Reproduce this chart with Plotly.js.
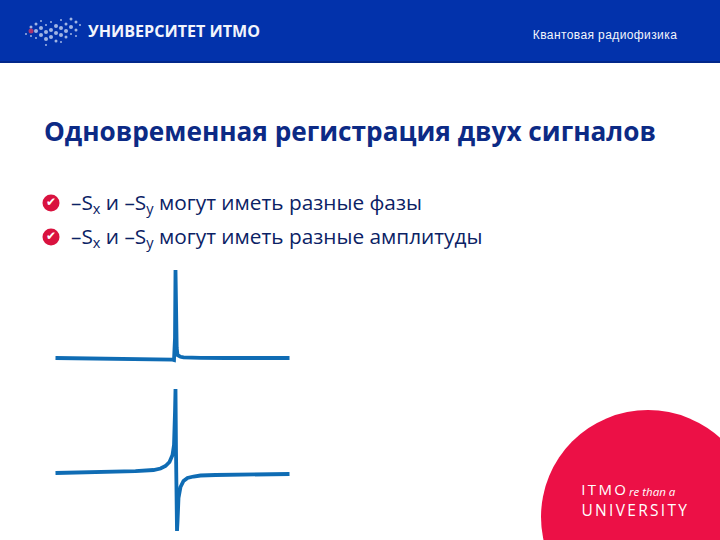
<!DOCTYPE html>
<html><head><meta charset="utf-8">
<script src="https://cdn.plot.ly/plotly-3.0.1.min.js"></script>
<style>html,body{margin:0;padding:0;background:#fff}#c{width:720px;height:540px}
.annotation[data-index="1"] text{letter-spacing:.4px}
.annotation[data-index="5"] text{letter-spacing:2.4px}
.annotation[data-index="7"] text{letter-spacing:2.3px}
</style>
</head><body><div id="c"></div>
<script>
// Signal curves: offset from resonance, signal level
const absorptionOffset = [-120,-90,-60,-30,-12,-6,-3,-1.5,-0.5,0,0.5,1.2,2,3,5,8,14,25,50,114];
const absorptionSignal = [0,-0.2,-0.4,-0.6,-0.9,-1.2,-1.6,-2,20,88,30,10,3,2,1.2,0.6,0.3,0.1,0,0];
const dispersionOffset = [-120,-90,-60,-40,-22,-15,-10,-6,-3,-1.5,-0.5,0,0.5,1,1.5,2,3,5,8,12,18,25,40,60,114];
const dispersionSignal = [-1,-0.5,0,0.8,2,3.5,6,10,17,27,60,83,20,-40,-59,-50,-26,-15,-9,-6,-4.5,-3.5,-3,-2.8,-2];
// Text
const headerRight = "Квантовая радиофизика";
const logoText = "УНИВЕРСИТЕТ ИТМО";
const pageTitle = "Одновременная регистрация двух сигналов";
const bulletLines = [
  "–S<sub>x</sub> и –S<sub>y</sub> могут иметь разные фазы",
  "–S<sub>x</sub> и –S<sub>y</sub> могут иметь разные амплитуды"
];
const bulletRows = [203, 237];
// Logo dots
const logoDotX = [26,31,31,36,36,36,41,41,41,46,46,46,46,51,51,51,56,56,56,61,61,61,61,66,66,66,71,71,71,76,76,76,80];
const logoDotY = [34,27,36,24,31,38,21,28,35,25,32,39,45,22,30,37,26,33,41,20,28,35,42,24,31,37,19,27,34,22,30,36,25];
const logoDotSize = [2,3,2,3,4,2,2,4,4,2,4,4,2,2,4,4,4,4,3,2,4,4,2,3,4,3,3,4,2,3,3,2,2];

const navy = "#0b2265", crimson = "#ec1046", blue = "#0f6cb4";
const font = "'Open Sans', 'Noto Sans', sans-serif";

const traces = [
  {x:logoDotX,y:logoDotY,xaxis:"x",yaxis:"y",mode:"markers",hoverinfo:"skip",
   marker:{size:logoDotSize,color:"#e6edfb",line:{width:0}}},
  {x:[31],y:[31],xaxis:"x",yaxis:"y",mode:"markers",hoverinfo:"skip",
   marker:{size:5,color:"#a8326e",line:{width:0}}},
  {x:bulletRows.map(()=>51),y:bulletRows,xaxis:"x",yaxis:"y",mode:"markers",hoverinfo:"skip",
   marker:{size:17,color:"#d9123f",line:{width:0}}},
  {x:bulletRows.map(()=>51),y:bulletRows,xaxis:"x",yaxis:"y",mode:"text",text:bulletRows.map(()=>"✔"),
   textfont:{size:12,color:"#fff",family:"'DejaVu Sans'"},hoverinfo:"skip"},
  {x:absorptionOffset,y:absorptionSignal,xaxis:"x2",yaxis:"y2",mode:"lines",hoverinfo:"skip",
   line:{color:blue,width:3.8,shape:"linear"}},
  {x:dispersionOffset,y:dispersionSignal,xaxis:"x3",yaxis:"y3",mode:"lines",hoverinfo:"skip",
   line:{color:blue,width:3.8,shape:"linear"}}
];
const hidden = {visible:false,fixedrange:true};
const layout = {
  width:720,height:540,margin:{l:0,r:0,t:0,b:0},showlegend:false,
  paper_bgcolor:"#fff",plot_bgcolor:"rgba(0,0,0,0)",
  xaxis:{...hidden,domain:[0,1],range:[0,720]},
  yaxis:{...hidden,domain:[0,1],range:[540,0]},
  xaxis2:{...hidden,domain:[40/720,305/720],range:[-135.5,129.5],anchor:"y2"},
  yaxis2:{...hidden,domain:[1-370/540,1-260/540],range:[-12,98],anchor:"x2"},
  xaxis3:{...hidden,domain:[40/720,305/720],range:[-135.5,129.5],anchor:"y3"},
  yaxis3:{...hidden,domain:[0,1-380/540],range:[-68,92],anchor:"x3"},
  shapes:[
    {type:"rect",xref:"x",yref:"y",x0:0,x1:720,y0:0,y1:61,fillcolor:"#0232ab",line:{width:0},layer:"below"},
    {type:"rect",xref:"x",yref:"y",x0:0,x1:720,y0:61,y1:63,fillcolor:"#02288a",line:{width:0},layer:"below"},
    {type:"circle",xref:"x",yref:"y",x0:541,x1:755,y0:410,y1:624,fillcolor:crimson,line:{width:0},layer:"below"}
  ],
  annotations:[
    {text:logoText,x:86,y:31,xref:"x",yref:"y",xanchor:"left",yanchor:"middle",showarrow:false,
     font:{family:font,size:16.1,color:"#f2f5fc",weight:700}},
    {text:headerRight,x:675,y:35,xref:"x",yref:"y",xanchor:"right",yanchor:"middle",showarrow:false,
     font:{family:"'Liberation Sans'",size:12,color:"#f2f5fc"}},
    {text:pageTitle,x:42,y:131,xref:"x",yref:"y",xanchor:"left",yanchor:"middle",showarrow:false,
     font:{family:font,size:26.2,color:"#0c2a85",weight:700}},
    ...bulletLines.map((t,i)=>({text:t,x:69,y:bulletRows[i],xref:"x",yref:"y",xanchor:"left",yanchor:"middle",
      showarrow:false,font:{family:font,size:20.8,color:navy}})),
    {text:"ITMO",x:584,y:489,xref:"x",yref:"y",xanchor:"left",yanchor:"middle",showarrow:false,
     font:{family:font,size:15,color:"#fff"}},
    {text:"re than a",x:627,y:491,xref:"x",yref:"y",xanchor:"left",yanchor:"middle",showarrow:false,
     font:{family:font,size:11.5,color:"#fff",style:"italic"}},
    {text:"UNIVERSITY",x:591,y:510,xref:"x",yref:"y",xanchor:"left",yanchor:"middle",showarrow:false,
     font:{family:font,size:15.5,color:"#fff"}}
  ]
};
Plotly.newPlot("c",traces,layout,{displayModeBar:false});
</script></body></html>
